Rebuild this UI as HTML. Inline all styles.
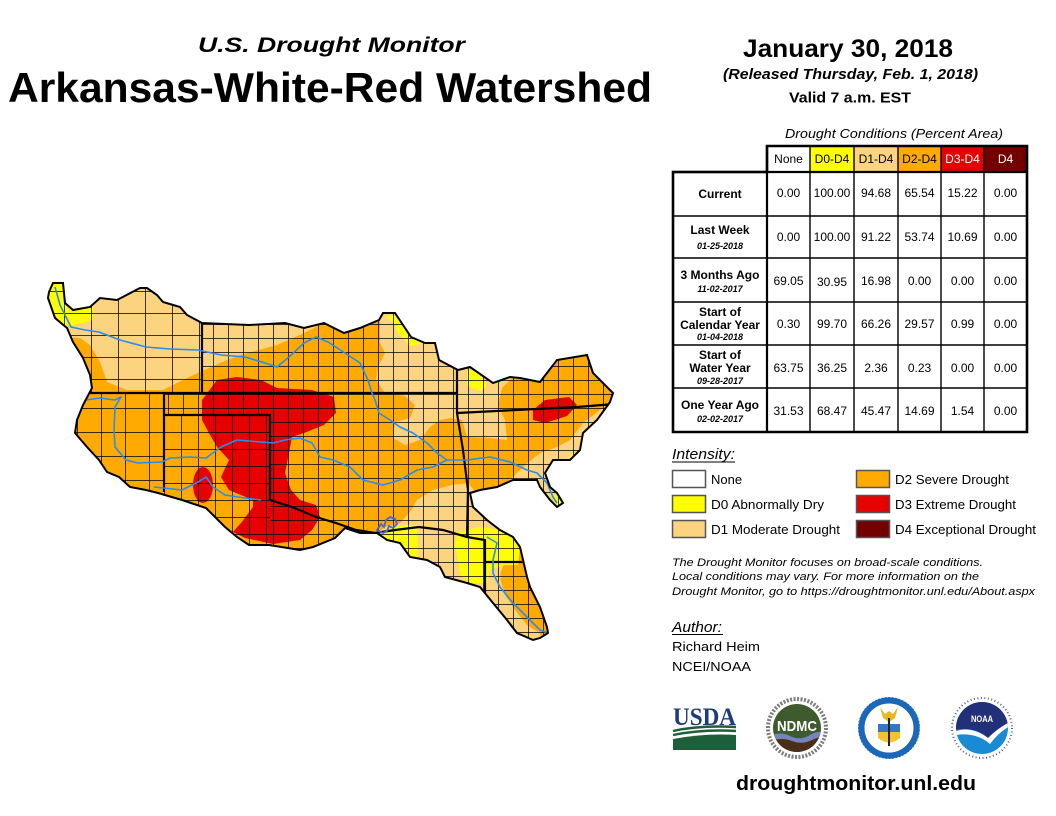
<!DOCTYPE html>
<html><head><meta charset="utf-8"><style>
html,body{margin:0;padding:0;background:#fff;}
svg{display:block;}
text{font-family:"Liberation Sans",Arial,sans-serif;}
</style></head><body>
<svg width="1056" height="816" viewBox="0 0 1056 816" xmlns="http://www.w3.org/2000/svg">
<defs>
<clipPath id="ws"><path id="outl" d="M49,292 L53,283 L63,283 L65,303 L73,310 L90,307 L100,298 L117,300 L140,288 L147,288 L157,295 L163,302 L180,307 L187,315 L202,323 L249,325 L285,323 L304,328 L324,323 L344,333 L360,328 L379,320 L383,313 L395,313 L411,337 L425,343 L435,343 L439,360 L458,370 L470,367 L493,383 L510,377 L520,378 L540,382 L557,360 L587,355 L593,373 L613,393 L610,402 L597,420 L583,433 L580,450 L570,460 L553,460 L545,473 L550,487 L557,493 L563,503 L557,507 L550,500 L540,487 L537,480 L513,480 L497,487 L480,490 L470,493 L473,507 L487,520 L500,530 L513,537 L520,547 L527,577 L530,587 L540,607 L547,627 L548,633 L540,638 L533,640 L517,633 L507,620 L493,603 L480,587 L467,583 L445,577 L440,567 L427,560 L410,557 L400,543 L387,540 L377,533 L360,533 L345,528 L335,538 L313,547 L300,550 L269,545 L249,545 L237,537 L225,527 L206,508 L182,500 L158,493 L146,490 L130,487 L119,477 L107,472 L99,460 L87,447 L75,433 L77,420 L83,405 L92,388 L90,375 L83,358 L73,342 L67,328 L55,318 L48,298 Z"/></clipPath>
<pattern id="cty" width="15" height="14" patternUnits="userSpaceOnUse" x="3" y="2"><path d="M0,0.5 H15 M0.5,0 V14" stroke="#000" stroke-width="0.75" fill="none"/></pattern>
<pattern id="ctyA" width="27" height="22" patternUnits="userSpaceOnUse" x="10" y="5"><path d="M0,0.5 H27 M0.5,0 V22" stroke="#000" stroke-width="0.75" fill="none"/></pattern>
<pattern id="ctyB" width="24" height="24" patternUnits="userSpaceOnUse" x="5" y="0"><path d="M0,0.5 H24 M0.5,0 V24" stroke="#000" stroke-width="0.75" fill="none"/></pattern>
<pattern id="ctyC" width="17" height="17" patternUnits="userSpaceOnUse" x="164" y="415"><path d="M0,0.5 H17 M0.5,0 V17" stroke="#000" stroke-width="0.75" fill="none"/></pattern>
<clipPath id="ndmcC"><circle cx="797" cy="728" r="24"/></clipPath>
<clipPath id="noaaC"><circle cx="982" cy="728" r="26"/></clipPath>
</defs>

<!-- Titles -->
<text x="198" y="52" font-size="21" font-weight="bold" font-style="italic" textLength="267" lengthAdjust="spacingAndGlyphs">U.S. Drought Monitor</text>
<text x="8" y="102" font-size="42" font-weight="bold" textLength="644" lengthAdjust="spacingAndGlyphs">Arkansas-White-Red Watershed</text>
<text x="743" y="57" font-size="25" font-weight="bold" textLength="210" lengthAdjust="spacingAndGlyphs">January 30, 2018</text>
<text x="723" y="79" font-size="15" font-weight="bold" font-style="italic" textLength="255" lengthAdjust="spacingAndGlyphs">(Released Thursday, Feb. 1, 2018)</text>
<text x="789" y="102.5" font-size="15" font-weight="bold" textLength="122" lengthAdjust="spacingAndGlyphs">Valid 7 a.m. EST</text>

<!-- MAP -->
<g clip-path="url(#ws)">
  <rect x="0" y="250" width="640" height="420" fill="#FFAA00"/>
  <!-- D1 tan -->
  <g fill="#FCD37F">
    <path d="M30,270 L330,270 L324,322 L316,327 L300,335 L277,345 L240,355 L220,363 L200,372 L187,378 L163,390 L127,390 L107,382 L100,362 L90,345 L80,338 L30,336 Z"/>
    <path d="M380,300 L512,300 L512,378 L502,388 L498,405 L505,420 L507,440 L490,438 L467,437 L462,420 L450,418 L440,420 L430,427 L420,440 L405,445 L393,438 L395,422 L410,418 L415,405 L405,396 L385,393 L376,380 L378,367 L385,353 L380,343 Z"/>
    <path d="M505,485 L523,467 L540,453 L557,447 L570,440 L583,423 L600,410 L620,395 L620,520 L505,520 Z"/>
    <path d="M377,533 L385,527 L400,523 L410,512 L417,500 L433,490 L452,485 L470,483 L478,487 L480,500 L490,515 L500,530 L505,560 L500,575 L520,590 L545,645 L480,645 L440,590 L420,562 L395,548 L377,540 Z"/>
  </g>
  <!-- orange inside tail -->
  <path d="M500,578 L512,575 L522,585 L532,605 L540,622 L538,632 L527,625 L515,610 L505,595 Z" fill="#FFAA00"/>
  <path d="M468,483 L505,485 L508,495 L500,502 L480,497 Z" fill="#FFAA00"/>
  <!-- D0 yellow -->
  <g fill="#FFFF00">
    <path d="M40,280 L66,280 L66,303 L73,310 L93,306 L93,320 L75,325 L62,325 L52,310 L40,295 Z"/>
    <path d="M385,317 L400,313 L410,333 L425,343 L410,346 L398,333 L393,322 Z"/>
    <path d="M467,371 L477,367 L487,386 L480,391 L467,386 Z"/>
    <path d="M378,533 L395,527 L405,525 L417,525 L418,545 L417,562 L405,562 L395,550 L385,545 Z"/>
    <path d="M458,532 L480,527 L500,530 L515,535 L520,548 L518,565 L505,565 L490,570 L487,583 L470,583 L460,575 L458,560 L455,545 Z"/>
    <path d="M569,457 L574,452 L576,460 Z"/>
    <path d="M551,495 L558,494 L564,503 L557,508 Z"/>
  </g>
  <!-- D3 red -->
  <g fill="#E60000">
    <path d="M202,400 L217,380 L237,377 L261,380 L277,388 L312,390 L334,397 L336,413 L324,425 L304,433 L292,437 L289,453 L285,473 L291,490 L300,500 L316,505 L320,517 L312,530 L300,540 L273,544 L245,538 L233,532 L241,523 L253,507 L253,500 L229,490 L221,477 L229,460 L217,447 L209,433 L202,420 Z"/>
    <ellipse cx="203" cy="485" rx="10" ry="18"/>
    <path d="M533,410 L545,400 L569,397 L577,405 L567,416 L545,423 L533,420 Z"/>
  </g>
  <!-- counties -->
  <rect x="0" y="250" width="202" height="143" fill="url(#ctyA)"/>
  <rect x="0" y="393" width="164" height="277" fill="url(#ctyB)"/>
  <rect x="164" y="415" width="106" height="255" fill="url(#ctyC)"/>
  <rect x="202" y="250" width="440" height="143" fill="url(#cty)"/>
  <rect x="164" y="393" width="106" height="22" fill="url(#cty)"/>
  <rect x="270" y="393" width="372" height="277" fill="url(#cty)"/>
  <!-- state lines -->
  <g stroke="#000" stroke-width="2.2" fill="none">
    <path d="M202,323 L202,393"/>
    <path d="M80,393 L457,393"/>
    <path d="M164,393 L164,492"/>
    <path d="M164,415 L270,415 L270,500"/>
    <path d="M457,367 L457,413 L463,450 L468,490 L467,537"/>
    <path d="M457,413 L577,407 L615,404"/>
    <path d="M270,500 L292,507 L316,517 L336,523 L356,530 L375,533 L395,530 L419,527 L443,530 L467,537 L485,540 L485,595"/>
    <path d="M485,562 L522,562"/>
  </g>
  <!-- rivers -->
  <g stroke="#2A8CF0" stroke-width="1.6" fill="none" stroke-linejoin="round">
    <path d="M55,287 L60,305 L71,327 L85,330 L99,332 L120,340 L146,347 L170,349 L198,350 L221,355 L245,357 L262,362 L277,367 L289,357 L304,343 L316,337 L328,342 L348,355 L360,363 L368,380 L372,393 L375,400 L379,413 L390,420 L400,427 L413,433 L427,443 L437,453 L447,460 L467,460 L490,457 L510,462 L527,470 L537,473 L547,483 L553,497 L557,503"/>
    <path d="M85,400 L100,398 L115,400 L121,397 L115,407 L114,430 L115,447 L126,460 L138,463 L162,462 L170,458 L190,457 L206,458 L221,447 L237,440 L261,442 L273,443 L285,440 L300,438 L312,443 L320,457 L333,460 L350,467 L363,480 L383,485 L400,480 L417,470 L433,467 L447,460"/>
    <path d="M154,487 L182,490 L198,482 L206,477 L213,487 L225,495 L245,498 L261,500"/>
    <path d="M487,537 L497,543 L493,560 L493,573 L500,587 L513,603 L530,620 L540,630 L548,633"/>
  </g>
  <path d="M377,530 L381,524 L384,527 L386,520 L390,517 L395,519 L397,524 L393,528 L389,526 L387,531 L383,533 Z" stroke="#4466DD" stroke-width="1.8" fill="none"/>
</g>
<use href="#outl" fill="none" stroke="#000" stroke-width="2"/>

<!-- TABLE -->
<text x="785" y="138" font-size="13" font-style="italic" textLength="218" lengthAdjust="spacingAndGlyphs">Drought Conditions (Percent Area)</text>
<rect x="810" y="146" width="44" height="26" fill="#FFFF00"/>
<rect x="854" y="146" width="44" height="26" fill="#FCD37F"/>
<rect x="898" y="146" width="43" height="26" fill="#FFAA00"/>
<rect x="941" y="146" width="43" height="26" fill="#E60000"/>
<rect x="984" y="146" width="43" height="26" fill="#730000"/>
<g stroke="#000" fill="none">
  <path d="M767,146 H1027 V432 H673 V172 H767 Z" stroke-width="2.6"/>
  <path d="M767,146 V432 M810,146 V432 M854,146 V432 M898,146 V432 M941,146 V432 M984,146 V432" stroke-width="1.4"/>
  <path d="M673,172 H1027 M673,216 H1027 M673,258 H1027 M673,302 H1027 M673,345 H1027 M673,388 H1027" stroke-width="1.4"/>
  <path d="M767,146 V432" stroke-width="2.2"/>
  <path d="M673,172 H1027" stroke-width="2.2"/>
</g>
<g font-size="12" text-anchor="middle">
  <text x="788.5" y="163">None</text>
  <text x="832" y="163">D0-D4</text>
  <text x="876" y="163">D1-D4</text>
  <text x="919.5" y="163">D2-D4</text>
  <text x="962.5" y="163" fill="#fff">D3-D4</text>
  <text x="1005.5" y="163" fill="#fff">D4</text>
</g>
<g font-size="12" font-weight="bold" text-anchor="middle">
  <text x="720" y="198">Current</text>
  <text x="720" y="234">Last Week</text>
  <text x="720" y="279">3 Months Ago</text>
  <text x="720" y="316">Start of</text>
  <text x="720" y="329">Calendar Year</text>
  <text x="720" y="359">Start of</text>
  <text x="720" y="372">Water Year</text>
  <text x="720" y="409">One Year Ago</text>
</g>
<g font-size="9" font-weight="bold" font-style="italic" text-anchor="middle">
  <text x="720" y="249">01-25-2018</text>
  <text x="720" y="292">11-02-2017</text>
  <text x="720" y="340">01-04-2018</text>
  <text x="720" y="384">09-28-2017</text>
  <text x="720" y="422">02-02-2017</text>
</g>
<g font-size="12" text-anchor="middle">
  <text x="788.5" y="197">0.00</text><text x="832" y="197">100.00</text><text x="876" y="197">94.68</text><text x="919.5" y="197">65.54</text><text x="962.5" y="197">15.22</text><text x="1005.5" y="197">0.00</text>
  <text x="788.5" y="241">0.00</text><text x="832" y="241">100.00</text><text x="876" y="241">91.22</text><text x="919.5" y="241">53.74</text><text x="962.5" y="241">10.69</text><text x="1005.5" y="241">0.00</text>
  <text x="788.5" y="285">69.05</text><text x="832" y="286">30.95</text><text x="876" y="285">16.98</text><text x="919.5" y="285">0.00</text><text x="962.5" y="285">0.00</text><text x="1005.5" y="285">0.00</text>
  <text x="788.5" y="328">0.30</text><text x="832" y="328">99.70</text><text x="876" y="328">66.26</text><text x="919.5" y="328">29.57</text><text x="962.5" y="328">0.99</text><text x="1005.5" y="328">0.00</text>
  <text x="788.5" y="372">63.75</text><text x="832" y="372">36.25</text><text x="876" y="372">2.36</text><text x="919.5" y="372">0.23</text><text x="962.5" y="372">0.00</text><text x="1005.5" y="372">0.00</text>
  <text x="788.5" y="415">31.53</text><text x="832" y="415">68.47</text><text x="876" y="415">45.47</text><text x="919.5" y="415">14.69</text><text x="962.5" y="415">1.54</text><text x="1005.5" y="415">0.00</text>
</g>

<!-- LEGEND -->
<text x="672" y="459" font-size="15" font-style="italic" textLength="63" lengthAdjust="spacingAndGlyphs">Intensity:</text>
<line x1="672" y1="462" x2="735" y2="462" stroke="#000" stroke-width="1"/>
<g stroke="#555" stroke-width="1.5">
  <rect x="672.5" y="470.5" width="33" height="17" fill="#fff"/>
  <rect x="672.5" y="495.5" width="33" height="17" fill="#FFFF00"/>
  <rect x="672.5" y="520.5" width="33" height="17" fill="#FCD37F"/>
  <rect x="856.5" y="470.5" width="33" height="17" fill="#FFAA00"/>
  <rect x="856.5" y="495.5" width="33" height="17" fill="#E60000"/>
  <rect x="856.5" y="520.5" width="33" height="17" fill="#730000"/>
</g>
<g font-size="13">
  <text x="711" y="484">None</text>
  <text x="711" y="509" textLength="113" lengthAdjust="spacingAndGlyphs">D0 Abnormally Dry</text>
  <text x="711" y="534" textLength="129" lengthAdjust="spacingAndGlyphs">D1 Moderate Drought</text>
  <text x="895" y="484" textLength="114" lengthAdjust="spacingAndGlyphs">D2 Severe Drought</text>
  <text x="895" y="509" textLength="121" lengthAdjust="spacingAndGlyphs">D3 Extreme Drought</text>
  <text x="895" y="534" textLength="141" lengthAdjust="spacingAndGlyphs">D4 Exceptional Drought</text>
</g>
<g font-size="11" font-style="italic">
  <text x="672" y="566" textLength="311" lengthAdjust="spacingAndGlyphs">The Drought Monitor focuses on broad-scale conditions.</text>
  <text x="672" y="580" textLength="307" lengthAdjust="spacingAndGlyphs">Local conditions may vary. For more information on the</text>
  <text x="672" y="595" textLength="363" lengthAdjust="spacingAndGlyphs">Drought Monitor, go to https://droughtmonitor.unl.edu/About.aspx</text>
</g>
<text x="672" y="632" font-size="15" font-style="italic" textLength="50" lengthAdjust="spacingAndGlyphs">Author:</text>
<line x1="672" y1="634.5" x2="723" y2="634.5" stroke="#000" stroke-width="1"/>
<text x="672" y="651" font-size="13" textLength="88" lengthAdjust="spacingAndGlyphs">Richard Heim</text>
<text x="672" y="671" font-size="13" textLength="79" lengthAdjust="spacingAndGlyphs">NCEI/NOAA</text>

<!-- LOGOS -->
<!-- USDA -->
<text x="673" y="725" style="font-family:'Liberation Serif','DejaVu Serif',serif" font-size="25" font-weight="bold" fill="#1D3C7C" textLength="63" lengthAdjust="spacingAndGlyphs">USDA</text>
<path d="M673,731 Q700,725 736,727" stroke="#1E5E3A" stroke-width="2.4" fill="none"/>
<path d="M673,735 Q703,729 736,731" stroke="#1E5E3A" stroke-width="2.4" fill="none"/>
<path d="M673,739 Q705,733 736,735 L736,750 L673,750 Z" fill="#1E5E3A"/>
<!-- NDMC -->
<circle cx="797" cy="728" r="29" fill="none" stroke="#444" stroke-width="4" stroke-dasharray="2 1.5" opacity="0.7"/>
<circle cx="797" cy="728" r="24" fill="#3D5B2D"/>
<g clip-path="url(#ndmcC)">
  <path d="M770,736 Q780,731 790,736 T810,735 T826,734 L826,745 L770,745 Z" fill="#7384BF"/>
  <path d="M770,741 Q782,737 792,741 T812,740 T826,739 L826,760 L770,760 Z" fill="#4B2E18"/>
</g>
<text x="797" y="731" font-size="15" font-weight="bold" fill="#fff" text-anchor="middle" textLength="40" lengthAdjust="spacingAndGlyphs">NDMC</text>
<!-- Commerce seal -->
<circle cx="889" cy="728" r="31" fill="#1C67B8"/>
<circle cx="889" cy="728" r="31" fill="none" stroke="#fff" stroke-width="1" stroke-dasharray="1.5 2" opacity="0.8"/>
<circle cx="889" cy="728" r="25" fill="#fff" stroke="#1C67B8" stroke-width="1"/>
<path d="M878,724 L900,724 L900,732 L878,732 Z" fill="#3577C5"/>
<path d="M878,732 L900,732 L900,738 Q889,747 878,738 Z" fill="#F2C230"/>
<path d="M880,707 L885,714 L889,711 L893,714 L898,707 L895,718 L889,722 L883,718 Z" fill="#E8B820"/>
<rect x="888" y="718" width="2" height="28" fill="#222"/>
<!-- NOAA -->
<circle cx="982" cy="728" r="30" fill="none" stroke="#2A3A7A" stroke-width="2" stroke-dasharray="1 2.5" opacity="0.8"/>
<circle cx="982" cy="728" r="26" fill="#1A8AD4"/>
<g clip-path="url(#noaaC)">
  <path d="M955,700 L1010,700 L1010,722 Q998,728 988,738 Q975,726 955,730 Z" fill="#22307A"/>
  <path d="M956,731 Q972,726 988,738 Q998,728 1010,722 L1010,726 Q999,732 990,744 Q976,732 956,735 Z" fill="#fff"/>
</g>
<text x="982" y="722" font-size="9" font-weight="bold" fill="#fff" text-anchor="middle" textLength="22" lengthAdjust="spacingAndGlyphs">NOAA</text>

<text x="736" y="790" font-size="20" font-weight="bold" textLength="240" lengthAdjust="spacingAndGlyphs">droughtmonitor.unl.edu</text>
</svg>
</body></html>
